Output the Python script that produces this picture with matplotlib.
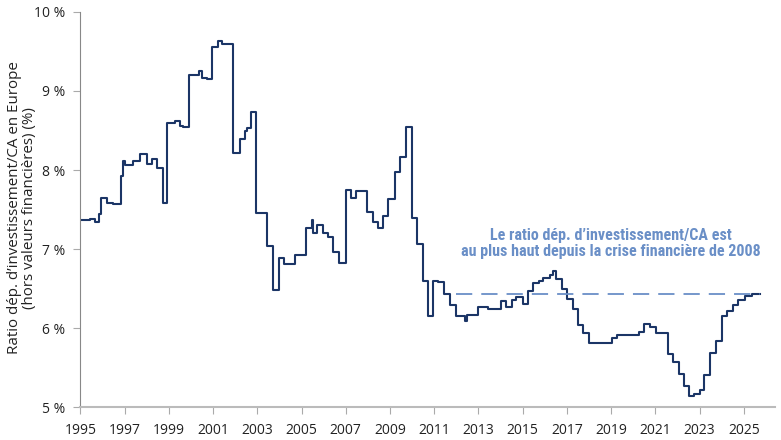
import matplotlib.pyplot as plt
from matplotlib.ticker import FuncFormatter

# step breakpoints: (year, ratio %)
years = [1995.0, 1995.43, 1995.66, 1995.85, 1995.93, 1996.18, 1996.48, 1996.82, 1996.94,
         1997.01, 1997.39, 1997.69, 1998.0, 1998.22, 1998.45, 1998.75, 1998.93, 1999.28,
         1999.5, 1999.65, 1999.92, 2000.38, 2000.48, 2000.71, 2000.94, 2001.24, 2001.39,
         2001.91, 2002.22, 2002.44, 2002.55, 2002.7, 2002.93, 2003.45, 2003.7, 2003.98,
         2004.22, 2004.71, 2005.2, 2005.46, 2005.51, 2005.69, 2005.99, 2006.21, 2006.44,
         2006.71, 2007.0, 2007.24, 2007.47, 2007.95, 2008.22, 2008.47, 2008.7, 2008.93,
         2009.23, 2009.46, 2009.71, 2009.99, 2010.21, 2010.48, 2010.74, 2010.96, 2011.19,
         2011.42, 2011.72, 2011.99, 2012.4, 2012.48, 2013.0, 2013.45, 2014.01, 2014.25,
         2014.51, 2014.71, 2015.01, 2015.22, 2015.46, 2015.76, 2015.94, 2016.24, 2016.39,
         2016.52, 2016.77, 2017.0, 2017.27, 2017.52, 2017.75, 2017.98, 2019.04, 2019.26,
         2020.24, 2020.5, 2020.77, 2021.03, 2021.55, 2021.8, 2022.05, 2022.31, 2022.5,
         2022.76, 2023.03, 2023.21, 2023.48, 2023.75, 2024.01, 2024.24, 2024.51, 2024.76,
         2025.07, 2025.37, 2025.75]
ratio = [7.37, 7.38, 7.35, 7.45, 7.65, 7.59, 7.57, 7.92, 8.11,
         8.07, 8.12, 8.20, 8.08, 8.14, 8.03, 7.58, 8.59, 8.62,
         8.56, 8.54, 9.20, 9.25, 9.17, 9.15, 9.56, 9.63, 9.60,
         8.22, 8.39, 8.49, 8.53, 8.74, 7.46, 7.04, 6.49, 6.89,
         6.81, 6.93, 7.27, 7.37, 7.21, 7.30, 7.20, 7.16, 6.97,
         6.83, 7.75, 7.65, 7.74, 7.47, 7.35, 7.27, 7.42, 7.63,
         7.97, 8.16, 8.55, 7.39, 7.06, 6.60, 6.15, 6.60, 6.58,
         6.43, 6.29, 6.15, 6.09, 6.17, 6.27, 6.25, 6.34, 6.27,
         6.36, 6.39, 6.31, 6.47, 6.57, 6.60, 6.64, 6.68, 6.72,
         6.62, 6.50, 6.37, 6.25, 6.04, 5.94, 5.82, 5.88, 5.92,
         5.95, 6.06, 6.02, 5.94, 5.67, 5.57, 5.42, 5.27, 5.14,
         5.17, 5.22, 5.41, 5.69, 5.84, 6.15, 6.22, 6.30, 6.36,
         6.41, 6.44, 6.43]

ref_level = 6.44
ref_start, ref_end = 2012.0, 2025.75
note = "Le ratio dép. d\u2019investissement/CA est\nau plus haut depuis la crise financière de 2008"
xticks = list(range(1995, 2026, 2))
yticks = [5, 6, 7, 8, 9, 10]

plt.rcParams['font.family'] = ['Open Sans', 'DejaVu Sans']

fig = plt.figure(figsize=(7.81, 4.4), dpi=100)
ax = fig.add_axes([0.103, 0.074, 0.889, 0.899])

ax.plot(years, ratio, drawstyle='steps-post', color='#1b3566', lw=1.5)
ax.plot([ref_start, ref_end], [ref_level, ref_level], color='#6a8fc7', lw=1.3,
        dashes=(9, 5))
ax.text(2019.0, 7.07, note, ha='center', va='center', color='#6a8fc7',
        fontsize=11.5, fontweight='bold', linespacing=1.05,
        family=['Liberation Sans Narrow', 'Roboto Condensed', 'DejaVu Sans'])

ax.set_xlim(1995, 2026.4)
ax.set_ylim(5, 10)
ax.set_xticks(xticks)
ax.set_yticks(yticks)
ax.yaxis.set_major_formatter(FuncFormatter(lambda v, p: f"{v:.0f} %"))
ax.tick_params(axis='both', labelsize=10, colors='#222222', length=5, width=0.8)
ax.tick_params(axis='x', color='#aaaaaa', pad=6)
ax.tick_params(axis='y', color='#aaaaaa', pad=6)
for s in ['top', 'right']:
    ax.spines[s].set_visible(False)
ax.spines['left'].set_color('#888888')
ax.spines['bottom'].set_color('#bbbbbb')
ax.spines['bottom'].set_linewidth(1.5)

ax.set_ylabel("Ratio dép. d\u2019investissement/CA en Europe\n(hors valeurs financières) (%)",
              fontsize=10.9, color='#222222', linespacing=1.05)
ax.yaxis.label.set_va('center')
ax.yaxis.set_label_coords(-0.084, 0.505)

fig.savefig('out.png', dpi=100)
